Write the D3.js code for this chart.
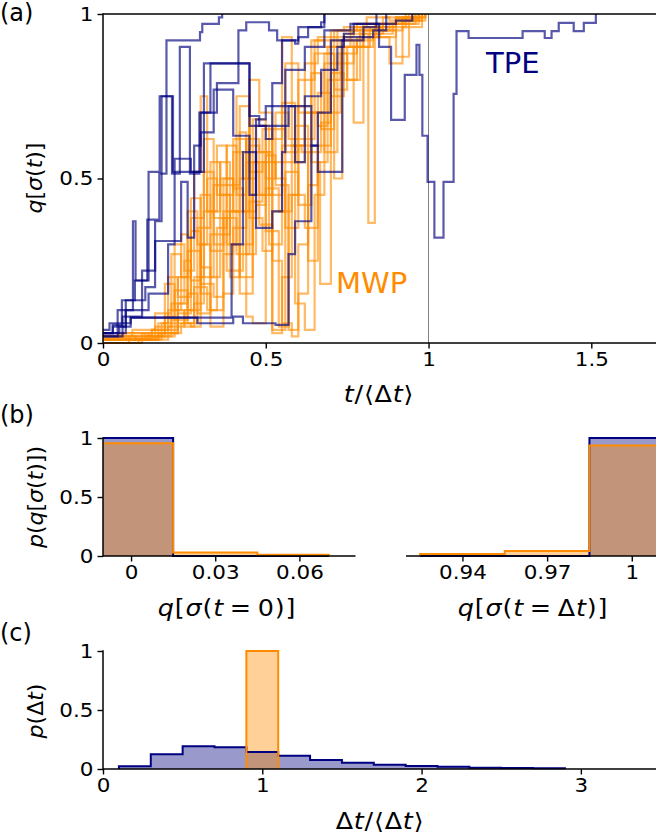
<!DOCTYPE html>
<html>
<head>
<meta charset="utf-8">
<script src="https://cdnjs.cloudflare.com/ajax/libs/d3/7.8.5/d3.min.js"></script>
<style>
  body { margin: 0; background: #fff; }
  text { font-family: "DejaVu Sans", sans-serif; }
</style>
</head>
<body>
<svg id="fig" width="656" height="838"></svg>
<script>
// ---- data ----

// (a) TPE trajectories: [t/<dt>, q] step points (value holds until next point)
const tpeRuns = [
  [[0,0.03],[0.03,0.055],[0.058,0.13],[0.098,0.19],[0.136,0.375],[0.173,0.515],[0.195,0.92],[0.298,0.945],[0.305,0.97],[0.356,0.99],[0.366,1]],
  [[0,0.02],[0.045,0.1],[0.092,0.37],[0.1,0.19],[0.14,0.52],[0.174,0.75],[0.212,0.515],[0.236,0.9],[0.267,0.515],[0.296,0.7],[0.33,0.85],[0.45,0.66],[0.51,0.66],[0.57,0.72],[0.63,0.72],[0.64,0.6],[0.66,0.52],[0.73,0.52],[0.735,0.92],[0.8,0.96],[0.84,1]],
  [[0,0.03],[0.03,0.05],[0.085,0.077],[0.395,0.3],[0.43,0.58],[0.47,0.35],[0.52,0.4],[0.55,0.58],[0.56,0.83],[0.62,0.9],[0.68,0.95],[0.76,0.97],[0.9,0.98],[0.95,1]],
  [[0,0.04],[0.02,0.06],[0.085,0.077],[0.29,0.06],[0.4,0.08],[0.43,0.06],[0.53,0.055],[0.57,0.27],[0.59,0.37],[0.64,0.6],[0.66,0.7],[0.7,0.92],[0.74,0.93],[0.83,0.95],[0.87,1]],
  [[0,0.02],[0.06,0.08],[0.12,0.22],[0.16,0.31],[0.24,0.49],[0.26,0.32],[0.28,0.6],[0.3,0.64],[0.34,0.77],[0.4,0.63],[0.45,0.45],[0.47,0.68],[0.5,0.72],[0.56,0.72],[0.59,0.55],[0.62,0.75],[0.67,0.83],[0.72,0.9],[0.74,0.94],[0.77,0.97],[0.848,0.9],[0.885,0.678],[0.927,0.815],[0.963,0.906],[0.972,0.815],[0.981,0.63],[0.997,0.49],[1.018,0.32],[1.046,0.49],[1.077,0.757],[1.086,0.948],[1.123,0.927],[1.289,0.948],[1.357,0.927],[1.378,0.948],[1.4,0.973],[1.446,0.948],[1.477,0.973],[1.514,1]],
  [[0,0.03],[0.05,0.05],[0.07,0.13],[0.13,0.17],[0.16,0.37],[0.18,0.75],[0.215,0.52],[0.3,0.52],[0.31,0.85],[0.42,0.85],[0.45,0.69],[0.48,0.66],[0.5,0.62],[0.52,0.79],[0.55,0.92],[0.6,0.96],[0.68,1]],
  [[0,0.03],[0.07,0.1],[0.14,0.15],[0.2,0.3],[0.22,0.56],[0.27,0.52],[0.3,0.7],[0.35,0.79],[0.416,0.95],[0.44,0.975],[0.51,0.95],[0.535,0.92],[0.59,0.91],[0.6,0.93],[0.63,0.96],[0.67,0.975],[0.68,1]]
];

// (a) MWP trajectories
const mwpRuns = [
  [[0,0.01],[0.1,0.02],[0.16,0.05],[0.21,0.12],[0.25,0.25],[0.27,0.19],[0.3,0.45],[0.33,0.28],[0.37,0.5],[0.4,0.4],[0.45,0.6],[0.48,0.45],[0.52,0.65],[0.56,0.58],[0.6,0.8],[0.65,0.88],[0.71,0.5],[0.735,0.9],[0.76,0.95],[0.85,0.97],[0.92,0.99],[0.98,1]],
  [[0,0.02],[0.12,0.03],[0.19,0.08],[0.22,0.3],[0.25,0.22],[0.28,0.52],[0.3,0.75],[0.32,0.4],[0.36,0.55],[0.39,0.3],[0.42,0.15],[0.46,0.68],[0.5,0.5],[0.53,0.7],[0.57,0.62],[0.62,0.85],[0.66,0.93],[0.72,0.95],[0.8,0.97],[0.9,0.985],[0.97,1]],
  [[0,0.0],[0.08,0.02],[0.15,0.04],[0.2,0.1],[0.24,0.33],[0.26,0.1],[0.3,0.2],[0.34,0.48],[0.38,0.22],[0.43,0.3],[0.46,0.55],[0.5,0.34],[0.54,0.05],[0.57,0.45],[0.6,0.6],[0.64,0.55],[0.667,0.18],[0.7,0.75],[0.74,0.9],[0.8,0.95],[0.88,0.97],[0.96,1]],
  [[0,0.01],[0.05,0.03],[0.13,0.01],[0.18,0.06],[0.22,0.16],[0.26,0.06],[0.29,0.35],[0.33,0.55],[0.36,0.45],[0.4,0.62],[0.44,0.27],[0.47,0.42],[0.5,0.62],[0.55,0.93],[0.58,0.6],[0.62,0.7],[0.66,0.66],[0.69,0.9],[0.74,0.94],[0.815,0.365],[0.835,0.97],[0.9,0.99],[0.99,1]],
  [[0,0.02],[0.1,0.01],[0.17,0.06],[0.2,0.2],[0.23,0.14],[0.27,0.38],[0.31,0.52],[0.34,0.3],[0.37,0.4],[0.42,0.64],[0.44,0.08],[0.46,0.06],[0.5,0.47],[0.54,0.4],[0.58,0.6],[0.61,0.58],[0.64,0.92],[0.68,0.9],[0.72,0.93],[0.77,0.96],[0.86,0.95],[0.92,0.98],[0.98,1]],
  [[0,0.01],[0.14,0.03],[0.2,0.05],[0.25,0.1],[0.28,0.17],[0.32,0.1],[0.35,0.35],[0.38,0.6],[0.41,0.45],[0.44,0.55],[0.48,0.36],[0.52,0.03],[0.55,0.2],[0.58,0.45],[0.62,0.35],[0.66,0.55],[0.69,0.8],[0.73,0.88],[0.78,0.92],[0.83,0.93],[0.88,0.85],[0.92,0.96],[0.98,1]],
  [[0,0.02],[0.09,0.04],[0.16,0.09],[0.21,0.27],[0.24,0.2],[0.27,0.44],[0.3,0.23],[0.33,0.1],[0.37,0.15],[0.4,0.58],[0.43,0.5],[0.47,0.66],[0.51,0.3],[0.55,0.55],[0.59,0.66],[0.63,0.25],[0.66,0.6],[0.7,0.92],[0.77,0.67],[0.8,0.95],[0.84,0.96],[0.93,0.99],[0.99,1]],
  [[0,0.0],[0.12,0.02],[0.18,0.03],[0.23,0.12],[0.26,0.4],[0.29,0.3],[0.32,0.5],[0.35,0.45],[0.39,0.2],[0.42,0.5],[0.45,0.8],[0.48,0.7],[0.52,0.04],[0.56,0.52],[0.6,0.42],[0.64,0.7],[0.68,0.88],[0.71,0.77],[0.75,0.9],[0.82,0.96],[0.9,0.98],[0.97,1]],
  [[0,0.01],[0.16,0.02],[0.22,0.06],[0.27,0.05],[0.3,0.3],[0.33,0.2],[0.36,0.33],[0.39,0.4],[0.42,0.2],[0.46,0.45],[0.5,0.57],[0.53,0.48],[0.57,0.04],[0.6,0.15],[0.63,0.48],[0.66,0.76],[0.7,0.7],[0.73,0.92],[0.79,0.94],[0.86,0.97],[0.93,1]],
  [[0,0.02],[0.07,0.01],[0.15,0.04],[0.19,0.18],[0.22,0.1],[0.25,0.05],[0.28,0.12],[0.31,0.62],[0.34,0.38],[0.38,0.3],[0.41,0.75],[0.45,0.52],[0.49,0.55],[0.53,0.5],[0.56,0.35],[0.6,0.72],[0.64,0.82],[0.67,0.65],[0.71,0.95],[0.78,0.97],[0.84,0.93],[0.9,0.99],[0.96,1]],
  [[0,0.0],[0.11,0.01],[0.2,0.03],[0.24,0.06],[0.28,0.2],[0.31,0.4],[0.35,0.6],[0.38,0.48],[0.42,0.72],[0.45,0.38],[0.49,0.28],[0.52,0.4],[0.56,0.85],[0.6,0.7],[0.65,0.92],[0.7,0.95],[0.74,0.96],[0.81,0.99],[0.88,0.98],[0.95,1]],
  [[0,0.01],[0.13,0.02],[0.19,0.04],[0.23,0.2],[0.26,0.28],[0.3,0.15],[0.33,0.05],[0.37,0.27],[0.4,0.35],[0.44,0.62],[0.48,0.58],[0.52,0.25],[0.55,0.06],[0.58,0.02],[0.6,0.3],[0.63,0.58],[0.67,0.67],[0.7,0.82],[0.74,0.8],[0.78,0.93],[0.85,0.95],[0.9,0.87],[0.94,0.98],[0.99,1]],
  [[0,0.02],[0.06,0.03],[0.14,0.02],[0.21,0.07],[0.26,0.15],[0.29,0.09],[0.33,0.33],[0.36,0.5],[0.4,0.47],[0.43,0.4],[0.47,0.58],[0.51,0.45],[0.55,0.73],[0.59,0.55],[0.62,0.62],[0.65,0.7],[0.68,0.58],[0.72,0.85],[0.77,0.9],[0.83,0.94],[0.89,0.97],[0.97,1]],
  [[0,0.01],[0.17,0.03],[0.23,0.09],[0.27,0.34],[0.3,0.18],[0.34,0.14],[0.37,0.38],[0.41,0.27],[0.45,0.43],[0.49,0.65],[0.52,0.55],[0.55,0.6],[0.59,0.12],[0.62,0.04],[0.65,0.45],[0.68,0.85],[0.72,0.88],[0.75,0.8],[0.79,0.96],[0.86,0.99],[0.94,1]]
];

// (b) initial / final q histograms
const startEdges = [-0.015, 0.015, 0.045, 0.0705];
const startTPE = [1, 0, 0];
const startMWP = [0.955, 0.029, 0.011];
const endEdges = [0.925, 0.955, 0.985, 1.015];
const endTPE = [0, 0, 1];
const endMWP = [0.017, 0.043, 0.937];

// (c) duration histograms
const durEdgesTPE = [0.1, 0.3, 0.5, 0.7, 0.9, 1.1, 1.3, 1.5, 1.7, 1.9, 2.1, 2.3, 2.5, 2.7, 2.9];
const durTPE = [0.023, 0.124, 0.192, 0.184, 0.144, 0.113, 0.076, 0.054, 0.037, 0.025, 0.02, 0.011, 0.008, 0.006];
const durEdgesMWP = [0.9, 1.1];
const durMWP = [1];

// tick labels
const ticksA_x = [0, 0.5, 1, 1.5];
const ticksUnit = [0, 0.5, 1];
const ticksStart = [0, 0.03, 0.06];
const ticksEnd = [0.94, 0.97, 1];
const ticksDur = [0, 1, 2, 3];

// ---- drawing ----
const NAVY = '#000080', ORANGE = '#ff8c00';
const svg = d3.select('#fig');
const TICK_FS = 19, LABEL_FS = 22.5, SX = 1.13;

// mixed upright / italic label; horizontal ones are widened a bit like the figure's mathtext
function mathText(g, x, y, parts, opts) {
  const t = g.append('text')
    .attr('x', 0).attr('y', 0)
    .attr('font-size', opts.size)
    .attr('text-anchor', opts.anchor || 'middle')
    .attr('letter-spacing', opts.rotate ? 0 : 0.7)
    .attr('fill', '#000')
    .attr('transform', opts.rotate ? `translate(${x},${y}) rotate(-90)` : `translate(${x},${y}) scale(${SX},1)`);
  parts.forEach(p => {
    t.append('tspan').attr('font-style', p[1] ? 'italic' : 'normal').text(p[0]);
  });
  return t;
}

function styleAxis(g) {
  g.select('.domain').remove();
  g.selectAll('.tick line').attr('stroke', '#000').attr('stroke-width', 1.4);
  g.selectAll('.tick text').attr('font-size', TICK_FS).attr('fill', '#000')
    .attr('font-family', '"DejaVu Sans", sans-serif');
}

function spine(x1, y1, x2, y2) {
  svg.append('line').attr('x1', x1).attr('y1', y1).attr('x2', x2).attr('y2', y2)
    .attr('stroke', '#000').attr('stroke-width', 1.5);
}

function bottomAxis(x, y0, vals) {
  const g = svg.append('g').attr('transform', `translate(0,${y0})`)
    .call(d3.axisBottom(x).tickValues(vals).tickFormat(d => String(d)).tickSize(5.5).tickPadding(4).tickSizeOuter(0));
  styleAxis(g);
  g.selectAll('.tick text').attr('transform', `scale(${SX},1)`);
}
function leftAxis(y, x0, vals) {
  const g = svg.append('g').attr('transform', `translate(${x0},0)`)
    .call(d3.axisLeft(y).tickValues(vals).tickFormat(d => String(d)).tickSize(5.5).tickPadding(4).tickSizeOuter(0));
  styleAxis(g);
  g.selectAll('.tick text').attr('x', -9.5 / SX).attr('transform', `scale(${SX},1)`);
}

// histogram outline as stepped polygon
function histPoints(edges, vals) {
  const pts = [[edges[0], 0]];
  vals.forEach((v, i) => { pts.push([edges[i], v]); pts.push([edges[i + 1], v]); });
  pts.push([edges[edges.length - 1], 0]);
  return pts;
}
function drawHist(x, y, edges, vals, color, clipId) {
  const line = d3.line().x(d => x(d[0])).y(d => y(d[1]));
  const pts = histPoints(edges, vals);
  svg.append('path').attr('d', line(pts) + 'Z')
    .attr('fill', color).attr('fill-opacity', 0.4).attr('stroke', 'none')
    .attr('clip-path', `url(#${clipId})`);
  return () => svg.append('path').attr('d', line(pts))
    .attr('fill', 'none').attr('stroke', color).attr('stroke-width', 2)
    .attr('clip-path', `url(#${clipId})`);
}
function clip(id, x0, y0, w, h) {
  svg.append('clipPath').attr('id', id).append('rect')
    .attr('x', x0).attr('y', y0).attr('width', w).attr('height', h);
}

// ---------------- panel (a) ----------------
const xA = d3.scaleLinear().domain([0, 1.7]).range([103, 656.4]);
const yA = d3.scaleLinear().domain([0, 1]).range([343, 14]);
clip('clipA', 103, 13, 560, 331);

svg.append('line').attr('x1', xA(1)).attr('x2', xA(1)).attr('y1', yA(0)).attr('y2', yA(1))
  .attr('stroke', '#808080').attr('stroke-width', 1);

const stepLine = d3.line().x(d => xA(d[0])).y(d => yA(d[1])).curve(d3.curveStepAfter);
const gRuns = svg.append('g').attr('clip-path', 'url(#clipA)').attr('fill', 'none')
  .attr('stroke-width', 2.2).attr('stroke-linejoin', 'miter');
gRuns.selectAll('path.mwp').data(mwpRuns).join('path').attr('class', 'mwp')
  .attr('d', stepLine).attr('stroke', ORANGE).attr('stroke-opacity', 0.6);
gRuns.selectAll('path.tpe').data(tpeRuns).join('path').attr('class', 'tpe')
  .attr('d', stepLine).attr('stroke', NAVY).attr('stroke-opacity', 0.65);

spine(103, 14, 656, 14);
spine(103, 13.3, 103, 343.7);
spine(103, 343, 656, 343);
bottomAxis(xA, 343, ticksA_x);
leftAxis(yA, 103, ticksUnit);

svg.append('text').attr('x', 486).attr('y', 73).attr('font-size', 29).attr('fill', NAVY).text('TPE');
svg.append('text').attr('x', 336).attr('y', 293).attr('font-size', 29).attr('fill', ORANGE).text('MWP');

mathText(svg, 379, 402, [['t', 1], ['/\u27E8\u0394', 0], ['t', 1], ['\u27E9', 0]], { size: LABEL_FS });
mathText(svg, 42, 178, [['q', 1], ['[', 0], ['\u03C3', 1], ['(', 0], ['t', 1], [')]', 0]], { size: 22, rotate: true });
svg.append('text').attr('x', 0).attr('y', 21).attr('font-size', 24).text('(a)');

// ---------------- panel (b) ----------------
const yB = d3.scaleLinear().domain([0, 1]).range([556, 438]);
const xB1 = d3.scaleLinear().domain([-0.01, 0.08]).range([103, 355.5]);
const xB2 = d3.scaleLinear().domain([0.92, 1.01]).range([406, 660]);
clip('clipB1', 103, 430, 253, 127);
clip('clipB2', 406, 430, 260, 127);

const b1Blue = drawHist(xB1, yB, startEdges, startTPE, NAVY, 'clipB1');
const b1Orange = drawHist(xB1, yB, startEdges, startMWP, ORANGE, 'clipB1');
b1Blue(); b1Orange();
const b2Blue = drawHist(xB2, yB, endEdges, endTPE, NAVY, 'clipB2');
const b2Orange = drawHist(xB2, yB, endEdges, endMWP, ORANGE, 'clipB2');
b2Blue(); b2Orange();

spine(103, 437.3, 103, 556.7);
spine(103, 556, 355.5, 556);
spine(406, 556, 656, 556);
bottomAxis(xB1, 556, ticksStart);
bottomAxis(xB2, 556, ticksEnd);
leftAxis(yB, 103, ticksUnit);

mathText(svg, 227, 616, [['q', 1], ['[', 0], ['\u03C3', 1], ['(', 0], ['t', 1], ['\u2009=\u20090)]', 0]], { size: LABEL_FS });
mathText(svg, 533, 616, [['q', 1], ['[', 0], ['\u03C3', 1], ['(', 0], ['t', 1], ['\u2009=\u2009\u0394', 0], ['t', 1], [')]', 0]], { size: LABEL_FS });
mathText(svg, 43, 497, [['p', 1], ['(', 0], ['q', 1], ['[', 0], ['\u03C3', 1], ['(', 0], ['t', 1], [')])', 0]], { size: 22, rotate: true });
svg.append('text').attr('x', 0).attr('y', 423).attr('font-size', 24).text('(b)');

// ---------------- panel (c) ----------------
const xC = d3.scaleLinear().domain([0, 3.5]).range([103, 660.5]);
const yC = d3.scaleLinear().domain([0, 1]).range([769, 651]);
clip('clipC', 103, 640, 560, 130);

const cBlue = drawHist(xC, yC, durEdgesTPE, durTPE, NAVY, 'clipC');
const cOrange = drawHist(xC, yC, durEdgesMWP, durMWP, ORANGE, 'clipC');
cBlue(); cOrange();

spine(103, 650.3, 103, 769.7);
spine(103, 769, 656, 769);
bottomAxis(xC, 769, ticksDur);
leftAxis(yC, 103, ticksUnit);

mathText(svg, 380, 829, [['\u0394', 0], ['t', 1], ['/\u27E8\u0394', 0], ['t', 1], ['\u27E9', 0]], { size: LABEL_FS });
mathText(svg, 43, 711, [['p', 1], ['(\u0394', 0], ['t', 1], [')', 0]], { size: 22, rotate: true });
svg.append('text').attr('x', 0).attr('y', 641).attr('font-size', 24).text('(c)');
</script>
</body>
</html>
